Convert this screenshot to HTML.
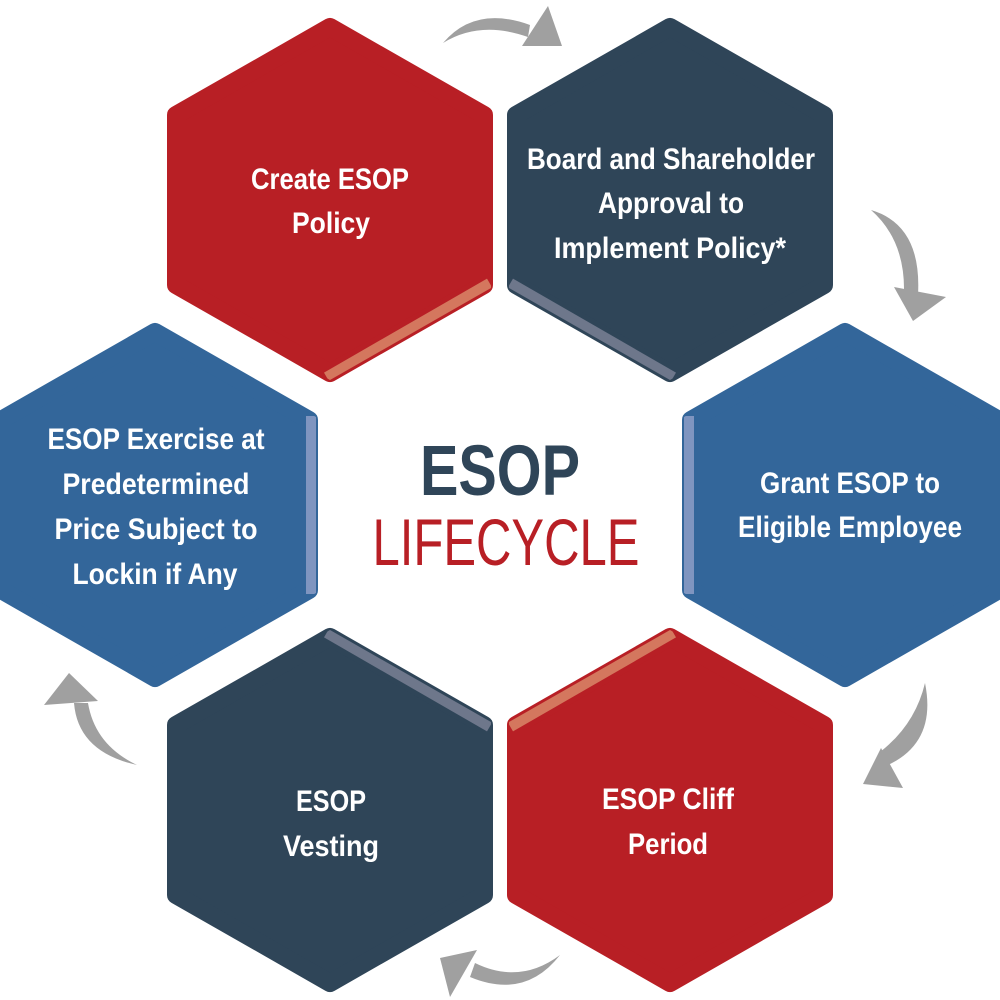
<!DOCTYPE html>
<html><head><meta charset="utf-8"><style>
html,body{margin:0;padding:0;background:#fff;}
svg{display:block}
text{font-family:"Liberation Sans",sans-serif;}
.t{fill:#fff;font-weight:bold;font-size:30px;text-anchor:middle}
</style></head><body>
<svg width="1000" height="1000" viewBox="0 0 1000 1000" xmlns="http://www.w3.org/2000/svg">
<defs>
<clipPath id="c1"><polygon points="330,20 491,112 491,288 330,380 169,288 169,112"/></clipPath>
<clipPath id="c2"><polygon points="670,20 831,112 831,288 670,380 509,288 509,112"/></clipPath>
<clipPath id="c3"><polygon points="155,325 316,417 316,593 155,685 -6,593 -6,417"/></clipPath>
<clipPath id="c4"><polygon points="845,325 1006,417 1006,593 845,685 684,593 684,417"/></clipPath>
<clipPath id="c5"><polygon points="330,630 491,722 491,898 330,990 169,898 169,722"/></clipPath>
<clipPath id="c6"><polygon points="670,630 831,722 831,898 670,990 509,898 509,722"/></clipPath>
</defs>
<g stroke-linejoin="round" stroke-width="18">
<polygon points="330,27 484,115 484,285 330,373 176,285 176,115" fill="#b81f25" stroke="#b81f25"/>
<line x1="493" y1="289" x2="330" y2="383" stroke="#d4775e" stroke-width="24" clip-path="url(#c1)"/>
<polygon points="670,27 824,115 824,285 670,373 516,285 516,115" fill="#2f4558" stroke="#2f4558"/>
<line x1="507" y1="289" x2="670" y2="383" stroke="#6e778b" stroke-width="24" clip-path="url(#c2)"/>
<polygon points="155,332 309,420 309,590 155,678 1,590 1,420" fill="#33669a" stroke="#33669a"/>
<line x1="318" y1="416" x2="318" y2="594" stroke="#7f95c0" stroke-width="24" clip-path="url(#c3)"/>
<polygon points="845,332 999,420 999,590 845,678 691,590 691,420" fill="#33669a" stroke="#33669a"/>
<line x1="682" y1="416" x2="682" y2="594" stroke="#7f95c0" stroke-width="24" clip-path="url(#c4)"/>
<polygon points="330,637 484,725 484,895 330,983 176,895 176,725" fill="#2f4558" stroke="#2f4558"/>
<line x1="330" y1="627" x2="493" y2="721" stroke="#6e778b" stroke-width="24" clip-path="url(#c5)"/>
<polygon points="670,637 824,725 824,895 670,983 516,895 516,725" fill="#b81f25" stroke="#b81f25"/>
<line x1="670" y1="627" x2="507" y2="721" stroke="#d4775e" stroke-width="24" clip-path="url(#c6)"/>
</g>
<g fill="#a0a0a0">
<path d="M443,43 Q475,5 530,25 L528,37 Q480,20 443,43 Z"/><polygon points="548,6 562,46 522,46"/>
<path d="M871,210 Q922,225 918,295 L904,292 Q905,240 871,210 Z"/><polygon points="894,287 946,297 913,321"/>
<path d="M925,683 Q937,742 888,765 L880,752 Q915,725 925,683 Z"/><polygon points="881,748 903,788 863,784"/>
<path d="M560,955 Q525,1000 470,977 L475,963 Q520,985 560,955 Z"/><polygon points="477,950 450,997 440,958"/>
<path d="M137,765 Q78,752 74,703 L88,703 Q95,745 137,765 Z"/><polygon points="69,673 44,705 98,701"/>
</g>
<text class="t"><tspan x="330" y="189" textLength="158" lengthAdjust="spacingAndGlyphs">Create ESOP</tspan><tspan x="331" y="233" textLength="78" lengthAdjust="spacingAndGlyphs">Policy</tspan></text>
<text class="t"><tspan x="671" y="169" textLength="288" lengthAdjust="spacingAndGlyphs">Board and Shareholder</tspan><tspan x="671" y="213" textLength="146" lengthAdjust="spacingAndGlyphs">Approval to</tspan><tspan x="670" y="258" textLength="232" lengthAdjust="spacingAndGlyphs">Implement Policy*</tspan></text>
<text class="t"><tspan x="156" y="449" textLength="217" lengthAdjust="spacingAndGlyphs">ESOP Exercise at</tspan><tspan x="156" y="494" textLength="187" lengthAdjust="spacingAndGlyphs">Predetermined</tspan><tspan x="156" y="539" textLength="203" lengthAdjust="spacingAndGlyphs">Price Subject to</tspan><tspan x="155" y="584" textLength="165" lengthAdjust="spacingAndGlyphs">Lockin if Any</tspan></text>
<text class="t"><tspan x="850" y="493" textLength="180" lengthAdjust="spacingAndGlyphs">Grant ESOP to</tspan><tspan x="850" y="537" textLength="224" lengthAdjust="spacingAndGlyphs">Eligible Employee</tspan></text>
<text class="t"><tspan x="331" y="811" textLength="70" lengthAdjust="spacingAndGlyphs">ESOP</tspan><tspan x="331" y="856" textLength="96" lengthAdjust="spacingAndGlyphs">Vesting</tspan></text>
<text class="t"><tspan x="668" y="809" textLength="132" lengthAdjust="spacingAndGlyphs">ESOP Cliff</tspan><tspan x="668" y="854" textLength="80" lengthAdjust="spacingAndGlyphs">Period</tspan></text>
<text x="500" y="495" fill="#2f4558" font-weight="bold" font-size="71" text-anchor="middle" textLength="160" lengthAdjust="spacingAndGlyphs">ESOP</text>
<text x="506" y="565" fill="#b81f25" font-size="66" text-anchor="middle" textLength="267" lengthAdjust="spacingAndGlyphs">LIFECYCLE</text>
</svg>
</body></html>
